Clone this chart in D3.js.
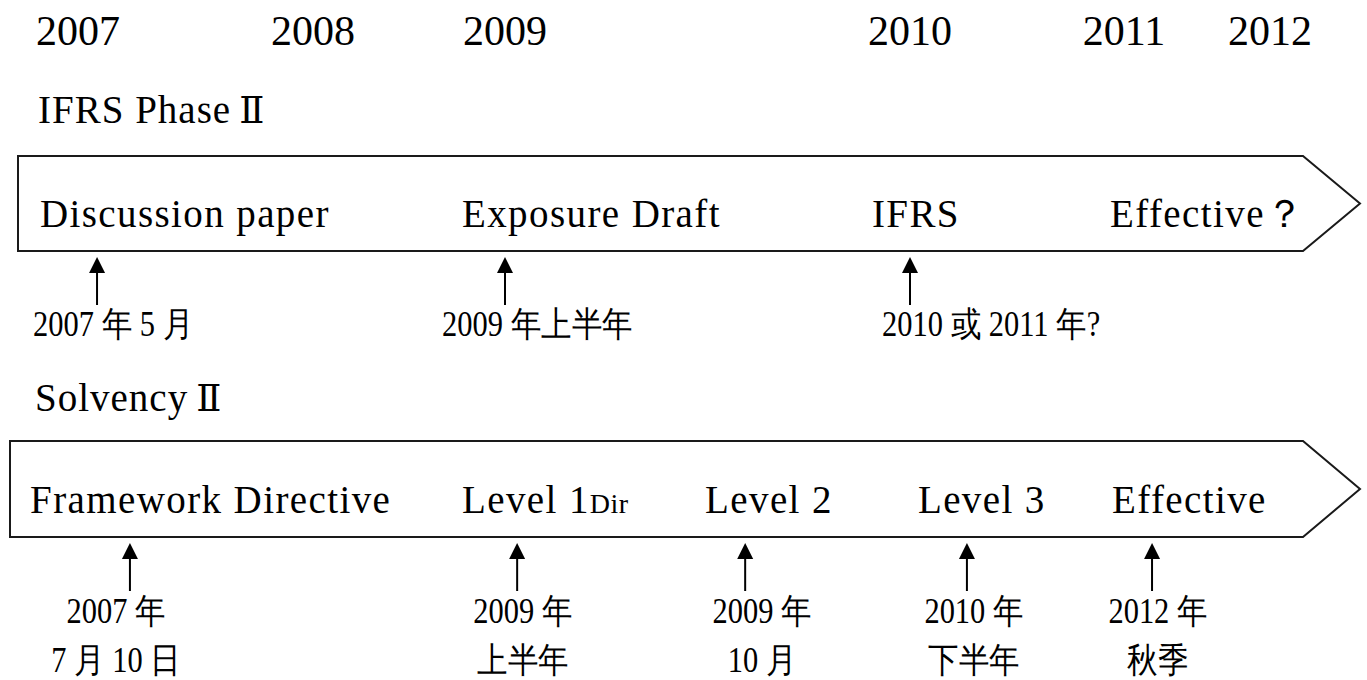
<!DOCTYPE html>
<html>
<head>
<meta charset="utf-8">
<script src="https://cdn.jsdelivr.net/npm/d3@7"></script>
<style>
  body { margin: 0; background: #fff; }
</style>
</head>
<body>
<script>
var years = [2007, 2008, 2009, 2010, 2011, 2012];
var yearLabels = ["2007", "2008", "2009", "2010", "2011", "2012"];

var ifrsTitle = ["IFRS Phase", "Ⅱ"];
var ifrsStages = ["Discussion paper", "Exposure Draft", "IFRS", "Effective？"];
var ifrsStageAt = [2006.838, 2008.776, 2009.906, 2010.935];
var ifrsMilestoneAt = [2007.081, 2009.0, 2010.0];
var ifrsDates = ["2007 年 5 月", "2009 年上半年", "2010 或 2011 年?"];
var ifrsDateAt = [2006.809, 2008.672, 2009.931];

var solvTitle = ["Solvency", "Ⅱ"];
var solvStages = ["Framework Directive", "Level 1", "Level 2", "Level 3", "Effective"];
var solvStageSub = ["", "Dir", "", "", ""];
var solvStageAt = [2006.796, 2008.776, 2009.494, 2010.037, 2010.944];
var solvMilestoneAt = [2007.221, 2009.030, 2009.593, 2010.266, 2011.192];
var solvDates1 = ["2007 年", "2009 年", "2009 年", "2010 年", "2012 年"];
var solvDates2 = ["7 月 10 日", "上半年", "10 月", "下半年", "秋季"];
var solvDateAt = [2007.162, 2009.044, 2009.635, 2010.299, 2011.233];

var width = 1367,
    height = 680;

var serif = '"Liberation Serif"';

// the years are not evenly spaced in the drawing, so a piecewise scale
var x = d3.scaleLinear()
    .domain(years)
    .range([78, 313, 505, 910, 1124, 1270]);

var svg = d3.select("body").append("svg")
    .attr("width", width)
    .attr("height", height);

// year header
svg.append("g").selectAll("text")
    .data(years)
    .enter().append("text")
    .attr("x", function (d) { return x(d); })
    .attr("y", 45)
    .attr("text-anchor", "middle")
    .style("font-family", serif)
    .style("font-size", "42px")
    .text(function (d, i) { return yearLabels[i]; });

var line = d3.line();

function band(top, bottom, left, title, titleX, titleY) {
    var mid = (top + bottom) / 2;
    svg.append("path")
        .attr("d", line([[left, top], [1303, top], [1360, mid], [1303, bottom], [left, bottom]]) + "Z")
        .attr("fill", "none")
        .attr("stroke", "#1a1a1a")
        .attr("stroke-width", 2);
    var t = svg.append("text")
        .attr("x", titleX)
        .attr("y", titleY)
        .style("font-family", serif)
        .style("font-size", "39px")
        .style("letter-spacing", "1px");
    t.append("tspan").text(title[0]);
    t.append("tspan")
        .style("font-family", '"DejaVu Serif"')
        .style("font-size", "37px")
        .attr("dx", 8)
        .text(title[1]);
}

function stages(names, subs, at, baseY) {
    var t = svg.append("g").selectAll("text")
        .data(at)
        .enter().append("text")
        .attr("x", function (d) { return x(d); })
        .attr("y", baseY)
        .style("font-family", serif)
        .style("font-size", "39px")
        .style("letter-spacing", "1.4px");
    t.append("tspan").text(function (d, i) { return names[i]; });
    t.append("tspan")
        .style("font-size", "28px")
        .style("letter-spacing", "0.5px")
        .text(function (d, i) { return subs ? subs[i] : ""; });
}

function arrows(at, tipY, bottomY) {
    var g = svg.append("g");
    g.selectAll("line")
        .data(at)
        .enter().append("line")
        .attr("x1", function (d) { return x(d); })
        .attr("x2", function (d) { return x(d); })
        .attr("y1", tipY + 10)
        .attr("y2", bottomY)
        .attr("stroke", "#000")
        .attr("stroke-width", 2);
    g.selectAll("path")
        .data(at)
        .enter().append("path")
        .attr("d", function (d) {
            var cx = x(d);
            return line([[cx, tipY], [cx + 8, tipY + 16], [cx - 8, tipY + 16]]) + "Z";
        })
        .attr("fill", "#000");
}

// the date labels use a tall, narrow face: squeeze the serif horizontally
function dates(at, labels, baseY, anchor) {
    svg.append("g").selectAll("text")
        .data(at)
        .enter().append("text")
        .attr("transform", function (d) { return "translate(" + x(d) + "," + baseY + ") scale(0.87,1)"; })
        .attr("text-anchor", anchor)
        .style("font-family", serif)
        .style("font-size", "35px")
        .text(function (d, i) { return labels[i]; });
}

// IFRS Phase II
band(156, 251, 18, ifrsTitle, 38, 123);
stages(ifrsStages, null, ifrsStageAt, 227);
arrows(ifrsMilestoneAt, 257, 305);
dates(ifrsDateAt, ifrsDates, 336, "start");

// Solvency II
band(441, 537, 10, solvTitle, 35, 411);
stages(solvStages, solvStageSub, solvStageAt, 513);
arrows(solvMilestoneAt, 543, 591);
dates(solvDateAt, solvDates1, 623, "middle");
dates(solvDateAt, solvDates2, 672, "middle");
</script>
</body>
</html>
